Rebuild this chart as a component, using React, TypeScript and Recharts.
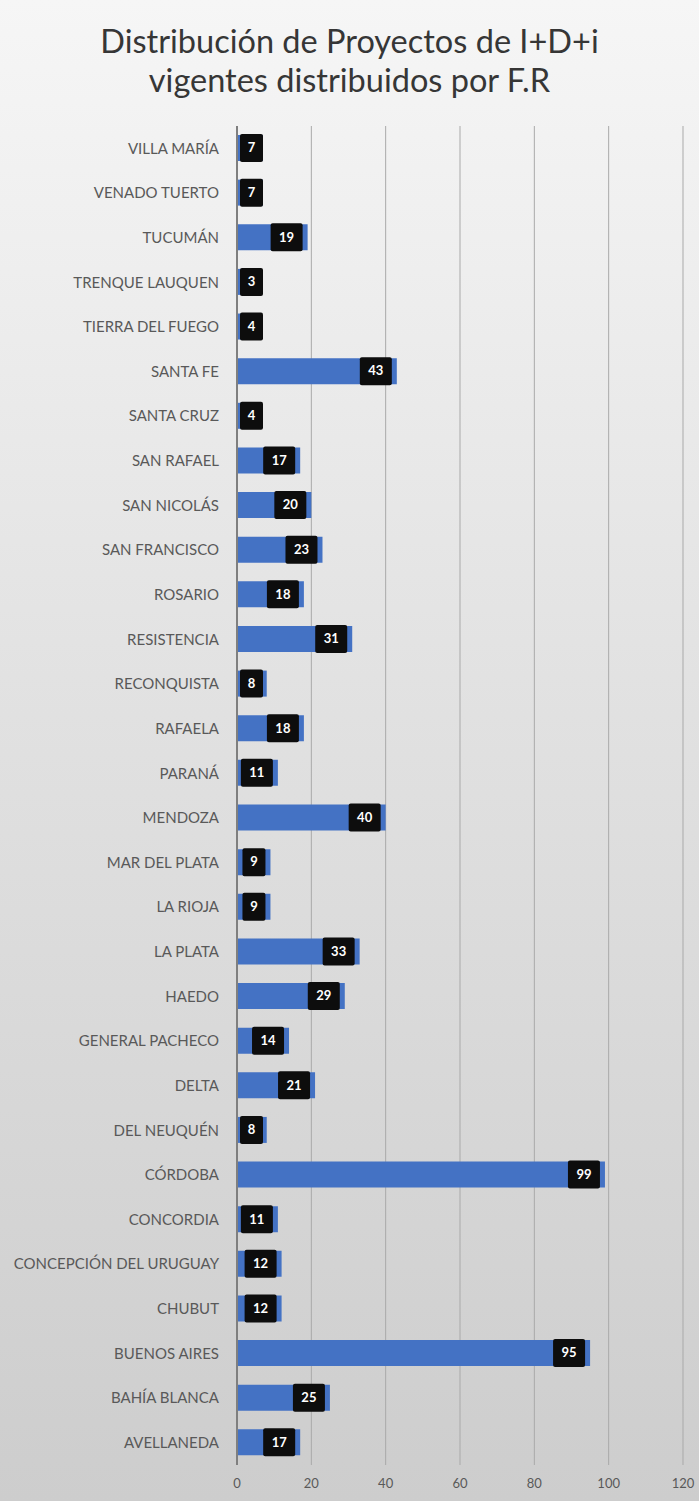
import React from 'react'
import { BarChart, Bar, XAxis, YAxis, CartesianGrid, LabelList } from 'recharts'

const regions = [
  'VILLA MARÍA', 'VENADO TUERTO', 'TUCUMÁN', 'TRENQUE LAUQUEN', 'TIERRA DEL FUEGO',
  'SANTA FE', 'SANTA CRUZ', 'SAN RAFAEL', 'SAN NICOLÁS', 'SAN FRANCISCO',
  'ROSARIO', 'RESISTENCIA', 'RECONQUISTA', 'RAFAELA', 'PARANÁ',
  'MENDOZA', 'MAR DEL PLATA', 'LA RIOJA', 'LA PLATA', 'HAEDO',
  'GENERAL PACHECO', 'DELTA', 'DEL NEUQUÉN', 'CÓRDOBA', 'CONCORDIA',
  'CONCEPCIÓN DEL URUGUAY', 'CHUBUT', 'BUENOS AIRES', 'BAHÍA BLANCA', 'AVELLANEDA',
]
const proyectos = [
  7, 7, 19, 3, 4,
  43, 4, 17, 20, 23,
  18, 31, 8, 18, 11,
  40, 9, 9, 33, 29,
  14, 21, 8, 99, 11,
  12, 12, 95, 25, 17,
]
const xTicks = [0, 20, 40, 60, 80, 100, 120]

const data = regions.map((name, i) => ({ name, value: proyectos[i] }))

const FONT = 'Lato, "Open Sans", sans-serif'

function ValueTag(props: any) {
  const { x, y, width, height, value } = props
  const text = String(value)
  const w = text.length > 1 ? 32 : 23
  const h = height + 2
  const left = Math.max(x + 3, x + width - 5 - w)
  return (
    <g>
      <rect x={left} y={y - 1} width={w} height={h} rx={2} fill="#0d0d0d" />
      <text
        x={left + w / 2}
        y={y + height / 2 + 1}
        textAnchor="middle"
        dominantBaseline="middle"
        fill="#ffffff"
        fontFamily={FONT}
        fontWeight={700}
        fontSize={13}
      >
        {text}
      </text>
    </g>
  )
}

export default function App() {
  return (
    <div
      style={{
        position: 'absolute',
        left: 0,
        top: 0,
        width: 699,
        height: 1501,
        background: 'linear-gradient(180deg, #f6f6f6 0%, #e2e2e2 45%, #cdcdcd 100%)',
        fontFamily: FONT,
      }}
    >
      <div
        style={{
          position: 'absolute',
          top: 21,
          left: 0,
          width: 699,
          textAlign: 'center',
          color: '#363636',
          fontSize: 32.5,
          lineHeight: '39px',
        }}
      >
        Distribución de Proyectos de I+D+i
        <br />
        vigentes distribuidos por F.R
      </div>
      <BarChart
        width={699}
        height={1501}
        data={data}
        layout="vertical"
        margin={{ top: 126, right: 16, bottom: 0, left: 0 }}
        barSize={26}
      >
        <CartesianGrid horizontal={false} stroke="#a9a9a9" strokeWidth={1} />
        <XAxis
          type="number"
          domain={[0, 120]}
          ticks={xTicks}
          axisLine={false}
          tickLine={false}
          height={36}
          tickMargin={8}
          tick={{ fill: '#595959', fontSize: 13, fontFamily: FONT }}
        />
        <YAxis
          type="category"
          dataKey="name"
          width={237}
          axisLine={{ stroke: '#7f7f7f', strokeWidth: 2 }}
          tickLine={false}
          tickMargin={12}
          interval={0}
          tick={{ fill: '#595959', fontSize: 15, fontFamily: FONT }}
        />
        <Bar dataKey="value" fill="#4472c4" isAnimationActive={false}>
          <LabelList dataKey="value" content={ValueTag} />
        </Bar>
      </BarChart>
    </div>
  )
}
